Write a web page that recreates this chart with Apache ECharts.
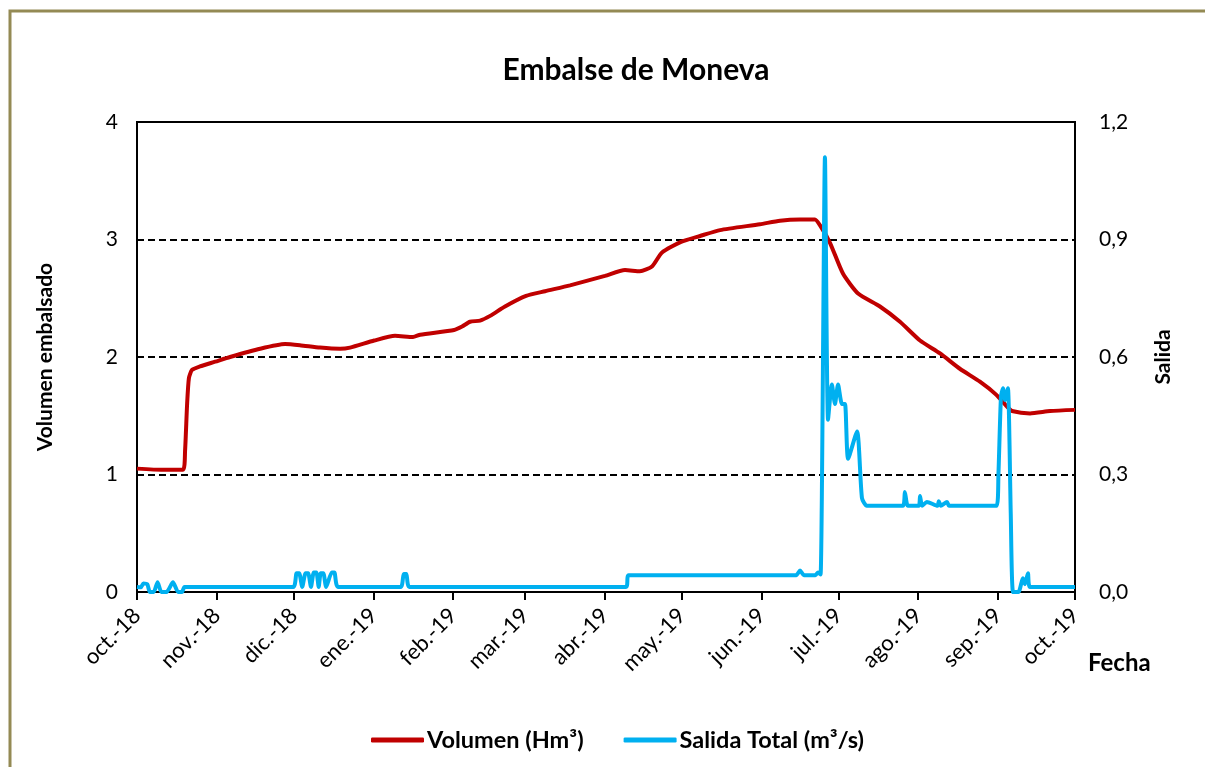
<!DOCTYPE html>
<html>
<head>
<meta charset="utf-8">
<title>Embalse de Moneva</title>
<script src="https://cdn.jsdelivr.net/npm/echarts@6/dist/echarts.min.js"></script>
<style>
  html, body { margin: 0; padding: 0; background: #fff; }
  #chart { width: 1205px; height: 767px; }
</style>
</head>
<body>
<div id="chart"></div>
<script>
// dias desde 01/10/2018
var mesesDias = [0, 31, 61, 92, 123, 151, 182, 212, 243, 273, 304, 335, 365];
var mesesEtiquetas = ['oct.-18', 'nov.-18', 'dic.-18', 'ene.-19', 'feb.-19', 'mar.-19', 'abr.-19',
                      'may.-19', 'jun.-19', 'jul.-19', 'ago.-19', 'sep.-19', 'oct.-19'];

// Volumen (Hm3)
var volDias = [0, 10, 17.9, 18.7, 19.5, 20.2, 21.4, 24.5, 30.4, 36.2, 47.9, 57.6, 63.4, 71.2, 79.0, 82.9,
               92.3, 100.4, 107.4, 110.2, 123.4, 126.5, 129.6, 133.5, 137.4, 143.2, 151.4, 158.8, 168.5,
               182.1, 189.9, 195.7, 200.4, 204.3, 211.7, 219.1, 226.9, 242.4, 250.2, 258, 263.8, 265.8,
               269.7, 274.7, 280.6, 289.1, 296.9, 304.7, 312.5, 320.2, 328, 334.3, 338.9, 340.5, 347.5,
               355.3, 365];
var volValores = [1.05, 1.04, 1.04, 1.2, 1.6, 1.82, 1.89, 1.92, 1.96, 2.0, 2.07, 2.11, 2.10, 2.08, 2.07, 2.08,
                  2.14, 2.18, 2.17, 2.19, 2.23, 2.26, 2.30, 2.31, 2.35, 2.43, 2.52, 2.56, 2.61,
                  2.69, 2.74, 2.73, 2.77, 2.89, 2.98, 3.03, 3.08, 3.13, 3.16, 3.17, 3.17, 3.12,
                  2.97, 2.71, 2.54, 2.43, 2.30, 2.14, 2.03, 1.90, 1.79, 1.68, 1.57, 1.54, 1.52,
                  1.54, 1.55];

// Salida total (m3/s)
var salDias = [0, 1.5, 2.5, 4, 5, 6.5, 8, 9.5, 11.5, 14, 16, 17.5, 18.5,
               60.8, 62.1, 63.1, 64.3, 65.6, 66.6, 67.7, 68.8, 69.8, 70.7, 71.5, 72.5, 73.6,
               75.8, 76.8, 78.2,
               102.6, 103.8, 104.8, 106, 190.3, 191.3, 256.5, 258, 259.5, 264, 265, 266,
               267.7, 268.9, 270.4, 271.6, 272.8, 274.3, 275.5, 276.7, 280.2, 282.1, 284,
               298, 298.8, 300, 304.2, 304.7, 305.5, 307.4, 311.5, 312, 312.8, 315.2, 316,
               334.5, 335.2, 336.2, 337, 337.8, 338.9, 340, 340.9, 343, 344.7, 345.5, 346.7, 347.5, 365];
var salValores = [0.013, 0.012, 0.022, 0.02, 0.0, 0.0, 0.025, 0.0, 0.0, 0.025, 0.0, 0.0, 0.013,
                  0.013, 0.048, 0.048, 0.013, 0.048, 0.048, 0.013, 0.05, 0.05, 0.013, 0.048, 0.048, 0.013,
                  0.05, 0.05, 0.013,
                  0.013, 0.046, 0.046, 0.013, 0.013, 0.043, 0.043, 0.055, 0.043, 0.043, 0.05, 0.045,
                  1.11, 0.44, 0.53, 0.48, 0.53, 0.48, 0.48, 0.34, 0.41, 0.24, 0.22,
                  0.22, 0.255, 0.22, 0.22, 0.245, 0.22, 0.23, 0.22, 0.232, 0.22, 0.23, 0.22,
                  0.22, 0.3, 0.5, 0.52, 0.49, 0.52, 0.2, 0.0, 0.0, 0.035, 0.02, 0.048, 0.013, 0.013];

function pares(xs, ys) {
    var out = [];
    for (var i = 0; i < xs.length; i++) out.push([xs[i], ys[i]]);
    return out;
}

var fuente = 'Lato, "Open Sans", sans-serif';
var myChart = echarts.init(document.getElementById('chart'));

var option = {
    backgroundColor: '#fff',
    animation: false,
    textStyle: { fontFamily: fuente, color: '#000' },
    title: {
        text: 'Embalse de Moneva',
        left: 631,
        top: 50,
        textAlign: 'center',
        textStyle: { fontFamily: fuente, fontSize: 30, fontWeight: 'bold', color: '#000' }
    },
    graphic: [
        {
            type: 'rect',
            shape: { x: 10, y: 11, width: 1300, height: 800 },
            style: { fill: 'none', stroke: '#948A54', lineWidth: 3 },
            silent: true
        },
        {
            type: 'text',
            left: 1088,
            top: 651,
            style: { text: 'Fecha', font: 'bold 24px ' + fuente, fill: '#000' }
        }
    ],
    legend: {
        left: 366,
        top: 723,
        itemWidth: 53,
        itemHeight: 5,
        itemGap: 40,
        icon: 'roundRect',
        textStyle: { fontFamily: fuente, fontSize: 23.5, fontWeight: 'bold', color: '#000', padding: [0, 0, 0, -2] },
        data: ['Volumen (Hm³)', 'Salida Total (m³/s)']
    },
    grid: {
        left: 137,
        right: 130,
        top: 122,
        bottom: 175,
        show: true,
        borderColor: '#000',
        borderWidth: 2,
        containLabel: false
    },
    xAxis: {
        type: 'value',
        min: 0,
        max: 365,
        axisLine: { show: true, lineStyle: { color: '#000', width: 2 } },
        axisTick: { show: true, length: 8, customValues: mesesDias, lineStyle: { color: '#000', width: 2 } },
        axisLabel: {
            customValues: mesesDias,
            rotate: 45,
            margin: 20,
            fontFamily: fuente,
            fontSize: 22,
            color: '#000',
            formatter: function (v) {
                var i = mesesDias.indexOf(Math.round(v));
                return i >= 0 ? mesesEtiquetas[i] : '';
            }
        },
        splitLine: { show: false }
    },
    yAxis: [
        {
            type: 'value',
            min: 0,
            max: 4,
            interval: 1,
            name: 'Volumen embalsado',
            nameLocation: 'middle',
            nameGap: 81,
            nameTextStyle: { fontFamily: fuente, fontSize: 21, fontWeight: 'bold', color: '#000' },
            axisLine: { show: true, lineStyle: { color: '#000', width: 2 } },
            axisTick: { show: false },
            axisLabel: { margin: 19, fontFamily: fuente, fontSize: 21, color: '#000' },
            splitLine: { show: true, lineStyle: { color: '#000', width: 2, type: [7, 4] } }
        },
        {
            type: 'value',
            min: 0,
            max: 1.2,
            interval: 0.3,
            position: 'right',
            name: 'Salida',
            nameLocation: 'middle',
            nameGap: 78,
            nameTextStyle: { fontFamily: fuente, fontSize: 21, fontWeight: 'bold', color: '#000' },
            axisLine: { show: true, lineStyle: { color: '#000', width: 2 } },
            axisTick: { show: false },
            axisLabel: {
                margin: 24,
                fontFamily: fuente,
                fontSize: 21,
                color: '#000',
                formatter: function (v) { return v.toFixed(1).replace('.', ','); }
            },
            splitLine: { show: false }
        }
    ],
    series: [
        {
            name: 'Volumen (Hm³)',
            type: 'line',
            yAxisIndex: 0,
            showSymbol: false,
            smooth: 0.2,
            lineStyle: { color: '#C00000', width: 4 },
            itemStyle: { color: '#C00000' },
            data: pares(volDias, volValores),
            z: 3
        },
        {
            name: 'Salida Total (m³/s)',
            type: 'line',
            yAxisIndex: 1,
            showSymbol: false,
            smooth: 0.2,
            lineStyle: { color: '#00B0F0', width: 4 },
            itemStyle: { color: '#00B0F0' },
            data: pares(salDias, salValores),
            z: 4
        }
    ]
};

myChart.setOption(option);
</script>
</body>
</html>
